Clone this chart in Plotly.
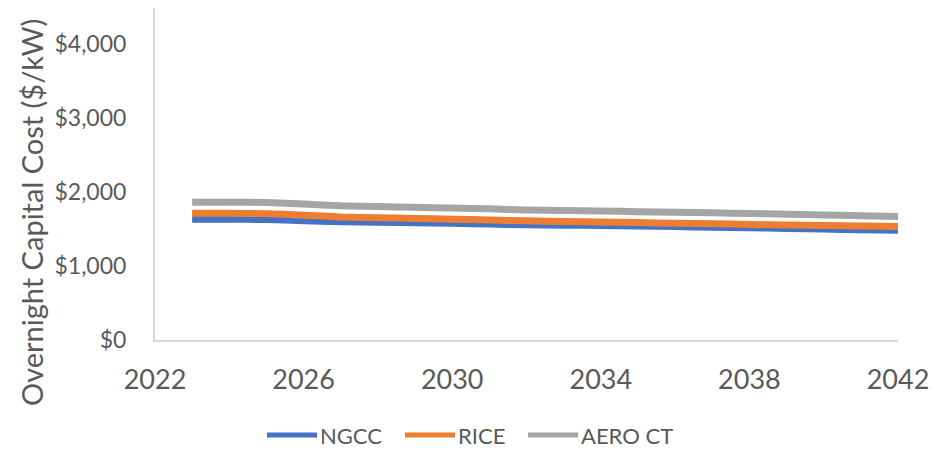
import plotly.graph_objects as go

# Overnight capital cost projections by technology ($/kW)
years = list(range(2023, 2043))
ngcc = [1630, 1630, 1625, 1610, 1595, 1590, 1582, 1575, 1565, 1555,
        1550, 1545, 1538, 1530, 1522, 1515, 1505, 1497, 1488, 1480]
rice = [1710, 1710, 1705, 1685, 1660, 1650, 1640, 1630, 1620, 1608,
        1600, 1592, 1584, 1576, 1568, 1560, 1552, 1545, 1538, 1530]
aero_ct = [1860, 1860, 1855, 1835, 1810, 1800, 1790, 1780, 1770, 1755,
           1748, 1740, 1732, 1724, 1716, 1708, 1698, 1688, 1678, 1666]

x_ticks = [2022, 2026, 2030, 2034, 2038, 2042]
y_ticks = [0, 1000, 2000, 3000, 4000]
y_tick_text = ["$0", "$1,000", "$2,000", "$3,000", "$4,000"]

series_names = ["NGCC", "RICE", "AERO CT"]
series_values = [ngcc, rice, aero_ct]
series_colors = ["#4472C4", "#ED7D31", "#A5A5A5"]

text_color = "#595959"
font_family = "Lato, Noto Sans, sans-serif"

fig = go.Figure()
for name, vals, color in zip(series_names, series_values, series_colors):
    fig.add_trace(go.Scatter(
        x=years, y=vals, name=name, mode="lines",
        line=dict(color=color, width=7, shape="spline", smoothing=0.6),
        showlegend=False,
    ))

# Legend row below the axis: a short colour bar followed by the series name
legend_y = (340 - 435) / 332
bar_starts = [267, 405, 528]     # px from the left of the page
bar_len = 50
for name, color, x0_px in zip(series_names, series_colors, bar_starts):
    x0 = (x0_px - 155) / 743
    x1 = (x0_px + bar_len - 155) / 743
    fig.add_shape(type="line", xref="paper", yref="paper",
                  x0=x0, x1=x1, y0=legend_y, y1=legend_y,
                  line=dict(color=color, width=5))
    fig.add_annotation(text=name, xref="paper", yref="paper",
                       x=x1 + 2 / 743, y=legend_y, xanchor="left",
                       yanchor="middle", showarrow=False, borderpad=0,
                       font=dict(size=22, color=text_color, family=font_family))

# Y axis title
fig.add_annotation(text="Overnight Capital Cost ($/kW)", xref="paper",
                   yref="paper", x=(31 - 155) / 743, y=(340 - 213) / 332,
                   xanchor="center", yanchor="middle", textangle=-90,
                   showarrow=False, borderpad=0,
                   font=dict(size=29, color=text_color, family=font_family))

fig.update_layout(
    width=935, height=449,
    margin=dict(l=155, r=37, t=8, b=109),
    paper_bgcolor="white", plot_bgcolor="white",
    font=dict(family=font_family, color=text_color, size=20),
    showlegend=False,
)

fig.update_xaxes(
    range=[2022, 2042], tickvals=x_ticks, ticktext=[str(t) for t in x_ticks],
    showgrid=False, zeroline=False, automargin=False,
    showline=True, linecolor="#D9D9D9", linewidth=2,
    ticks="", ticklabelstandoff=15,
    tickfont=dict(size=27, color=text_color),
)
fig.update_yaxes(
    range=[0, 4480], tickvals=y_ticks, ticktext=y_tick_text,
    showgrid=False, zeroline=False, automargin=False,
    showline=True, linecolor="#D9D9D9", linewidth=2,
    ticks="", ticklabelstandoff=22,
    tickfont=dict(size=23, color=text_color),
)

fig.write_html("out.html")
